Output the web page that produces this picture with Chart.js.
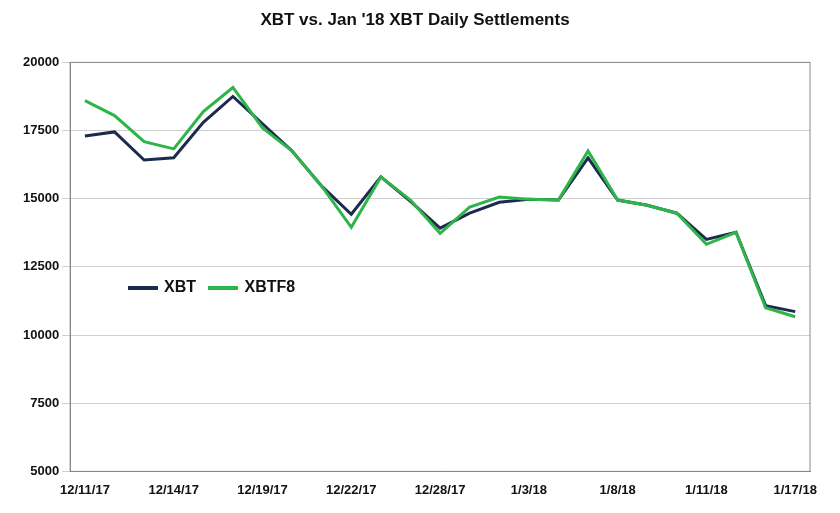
<!DOCTYPE html>
<html>
<head>
<meta charset="utf-8">
<script src="https://cdn.jsdelivr.net/npm/chart.js@4"></script>
<style>
  body { margin: 0; background: #fff; font-family: Arial, "Liberation Sans", sans-serif; }
  #wrap { position: relative; width: 840px; height: 513px; }
  #legend { position: absolute; left: 128px; top: 278px; font-size: 16px; font-weight: bold; color: #111; }
  #legend span.sw { display: inline-block; width: 30px; height: 4px; vertical-align: middle; margin-right: 6px; }
</style>
</head>
<body>
<div id="wrap">
  <canvas id="myChart" width="840" height="513"></canvas>
  <div id="legend">
    <span class="sw" style="background:#1c2b4d"></span>XBT
    <span class="sw" style="background:#2db54a;margin-left:8px"></span>XBTF8
  </div>
</div>
<script>
var dates = ['12/11/17','12/12/17','12/13/17','12/14/17','12/15/17','12/18/17','12/19/17','12/20/17','12/21/17','12/22/17',
  '12/26/17','12/27/17','12/28/17','12/29/17','1/2/18','1/3/18','1/4/18','1/5/18','1/8/18','1/9/18','1/10/18','1/11/18','1/12/18','1/16/18','1/17/18']
var tickLabels = ['12/11/17','12/14/17','12/19/17','12/22/17','12/28/17','1/3/18','1/8/18','1/11/18','1/17/18']
var xbt = [17300,17450,16420,16500,17800,18750,17750,16750,15460,14430,15800,14900,13920,14470,14870,14980,14950,16500,14950,14760,14470,13510,13770,11080,10860]
var xbtf8 = [18600,18050,17090,16830,18200,19080,17600,16750,15460,13950,15800,14950,13730,14690,15060,14980,14950,16750,14950,14760,14470,13330,13770,11000,10670]

// thin frame around the plot area, like the original
var frame = {
  id: 'frame',
  afterDraw: function (chart) {
    var a = chart.chartArea, c = chart.ctx
    c.save(); c.strokeStyle = '#888'; c.lineWidth = 1
    c.strokeRect(a.left, a.top, a.right - a.left, a.bottom - a.top)
    c.restore()
  }
}

function updateChart() {
  var ctx = document.getElementById('myChart').getContext('2d')
  new Chart(ctx, {
    type: 'line',
    data: {
      labels: dates,
      datasets: [
        { label: 'XBTF8', data: xbtf8, borderColor: '#2db54a', borderWidth: 3, pointRadius: 0, tension: 0 },
        { label: 'XBT', data: xbt, borderColor: '#1c2b4d', borderWidth: 3, pointRadius: 0, tension: 0 }
      ]
    },
    options: {
      responsive: false,
      animation: false,
      layout: { padding: { left: 20, right: 30, top: 0, bottom: 12 } },
      plugins: {
        legend: { display: false },
        title: { display: true, text: "XBT vs. Jan '18 XBT Daily Settlements", color: '#111',
          font: { size: 17, weight: 'bold', family: 'Arial' }, padding: { top: 10, bottom: 32 } }
      },
      scales: {
        x: {
          offset: true,
          grid: { display: false },
          border: { color: '#888' },
          ticks: {
            autoSkip: false, maxRotation: 0, color: '#111', font: { size: 13, weight: 'bold', family: 'Arial' },
            callback: function (v, i) { return tickLabels.indexOf(dates[i]) >= 0 ? dates[i] : '' }
          }
        },
        y: {
          min: 5000, max: 20000,
          grid: { color: '#cfcfcf' },
          border: { color: '#888' },
          ticks: { stepSize: 2500, color: '#111', font: { size: 13, weight: 'bold', family: 'Arial' },
            callback: function (v) { return String(v) } }
        }
      }
    }
  }, )
}
Chart.register(frame)
updateChart()
</script>
</body>
</html>
